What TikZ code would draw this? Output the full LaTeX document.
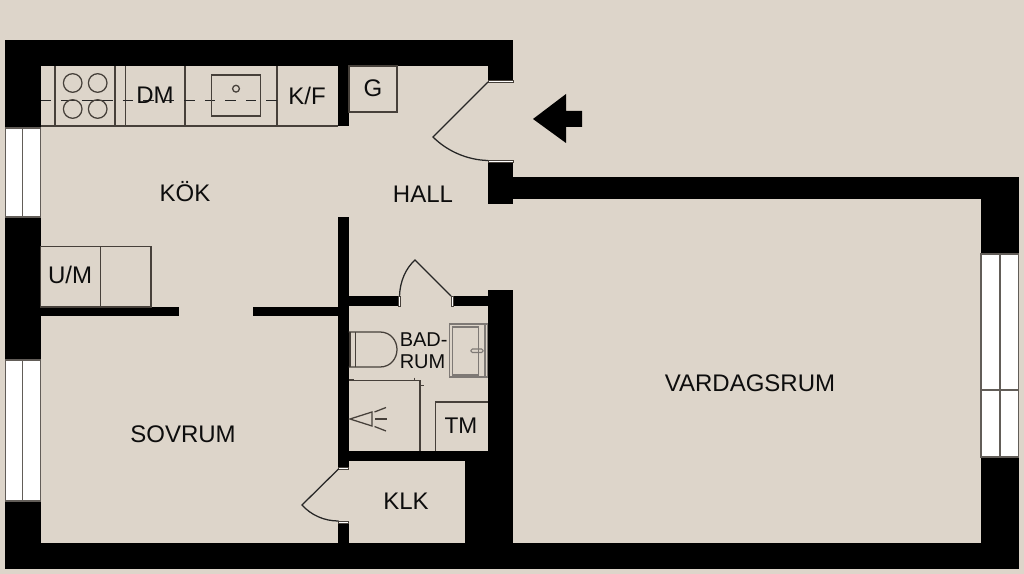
\documentclass[tikz,border=0pt]{standalone}
\usepackage{fontspec}
\setmainfont{Liberation Sans}
\definecolor{floorcol}{RGB}{221,213,202}
\definecolor{fixcol}{RGB}{70,64,58}
\tikzset{
  wall/.style={fill=black,draw=none},
  pane/.style={fill=white,draw=fixcol!85,line width=0.8pt},
  jamb/.style={fill=white,draw=fixcol,line width=0.5pt},
  fixture/.style={draw=fixcol,line width=0.95pt},
  basinline/.style={draw=fixcol!70,line width=0.85pt},
  doorleaf/.style={draw=black!85,line width=0.95pt},
  roomlabel/.style={inner sep=0pt,text=black!95,font=\fontsize{18}{18}\selectfont},
  smalllabel/.style={inner sep=0pt,text=black!95,font=\fontsize{15}{17.2}\selectfont}
}
\begin{document}
\begin{tikzpicture}[x=0.75pt,y=0.75pt,yscale=-1,xscale=1]
\useasboundingbox (0,0) rectangle (1024,574);
\fill[floorcol] (0,0) rectangle (1024,574);

%Outer walls
\path[wall] (5,40) rectangle (513,66);
\path[wall] (5,40) rectangle (40.5,569);
\path[wall] (5,543) rectangle (1019,569);
\path[wall] (981,177) rectangle (1019,569);
\path[wall] (488,177) rectangle (1019,199);
\path[wall] (488,66) rectangle (513,80.5);
\path[wall] (488,162.5) rectangle (513,204);

%Inner walls
\path[wall] (338,66) rectangle (348.5,126);
\path[wall] (338,217) rectangle (348.5,467);
\path[wall] (338,523) rectangle (348.5,543);
\path[wall] (40,307) rectangle (179,315.5);
\path[wall] (253,307) rectangle (338,315.5);
\path[wall] (348,296) rectangle (398,306);
\path[wall] (453,296) rectangle (488,306);
\path[wall] (488,290) rectangle (513,543);
\path[wall] (348,451) rectangle (488,461);
\path[wall] (465,461) rectangle (488,543);

%Windows
\draw[pane] (5.5,128) rectangle (40.5,217);
\draw[pane] (22.5,128) -- (22.5,217);
\draw[pane] (5.5,360) rectangle (40.5,501);
\draw[pane] (22.5,360) -- (22.5,501);
\draw[pane] (981,254) rectangle (1018.5,457);
\draw[pane] (1000,254) -- (1000,457);
\draw[pane] (981,390) -- (1018.5,390);

%Door jambs
\draw[jamb] (488,80.5) rectangle (513,82.5);
\draw[jamb] (488,160.5) rectangle (513,162.5);
\draw[jamb] (398,296) rectangle (400,306);
\draw[jamb] (451,296) rectangle (453,306);
\draw[jamb] (338.5,467) rectangle (348.5,469.5);
\draw[jamb] (338.5,521) rectangle (348.5,523);

%Door leaves
\draw[doorleaf] (488,82) -- (433,137) .. controls (447,151) and (467,160) .. (488,160.5);
\draw[doorleaf] (451,296) -- (415,260) .. controls (406,268) and (400,281) .. (399.5,296);
\draw[doorleaf] (338.5,469) -- (302,505) .. controls (311,515) and (324,521) .. (338.5,521);

%Entrance arrow
\fill[black] (533,119) -- (566,94) -- (566,111) -- (582,111) -- (582,127) -- (566,127) -- (566,143) -- cycle;

%Kitchen counter
\draw[fixture] (40.5,126) -- (338,126);
\foreach \cx in {55,115,125.5,185,277}
  \draw[fixture] (\cx,66) -- (\cx,126);
\draw[fixture,black!85,dash pattern=on 7.9pt off 7.5pt] (40.5,100.7) -- (277,100.7);
\draw[fixture,black!85] (61,100.7) -- (75,100.7);
\draw[fixture,black!85] (82,100.7) -- (112,100.7);
\foreach \hx in {72.7,97.7}
  \foreach \hy in {83,109}
    \draw[fixture] (\hx,\hy) circle (9.3);
\draw[fixture] (211.7,75) rectangle (260.7,116);
\draw[fixture] (236,88.7) circle (3.4);
\draw[fixture] (349,66) rectangle (397,112);

%Washer and cupboard
\draw[fixture] (40.5,246.7) rectangle (151,307);
\draw[fixture] (100.7,246.7) -- (100.7,307);

%Toilet
\draw[fixture] (350,332) -- (350,367);
\draw[fixture] (355.5,332) -- (355.5,367);
\draw[fixture] (348.5,332) -- (380,332) .. controls (391,332) and (397,341) .. (397,349.5) .. controls (397,358) and (391,367) .. (380,367) -- (348.5,367);

%Basin
\draw[basinline] (449.5,324) rectangle (487.5,377);
\draw[basinline] (452.5,327) rectangle (478.5,375);
\draw[basinline] (485,324) -- (485,377);
\draw[basinline,rounded corners=1pt] (471,349) rectangle (483,352.5);

%Shower
\draw[fixture] (348.5,380.5) -- (420,380.5) -- (420,451);
\draw[fixture] (348.5,379.5) -- (353.5,379.5);
\draw[fixture] (414.5,377.5) -- (414.5,380.5);
\draw[fixture] (420,385.5) -- (423.5,385.5);
\draw[fixture] (372,412) -- (350,419) -- (372,426) -- cycle;
\draw[fixture] (374.5,412) -- (386,407.5);
\draw[fixture] (375,419) -- (387,419);
\draw[fixture] (374.5,426.5) -- (386,431);
\draw[fixture] (435.5,451) -- (435.5,402) -- (487.5,402);

% Text Node
\node[roomlabel] (dmlabel) at (155,95) {DM};
\node[roomlabel] (kflabel) at (307,96) {K/F};
\node[roomlabel] (glabel) at (373,88) {G};
\node[roomlabel] (koklabel) at (185,192) {KÖK};
\node[roomlabel] (halllabel) at (423,194) {HALL};
\node[roomlabel] (umlabel) at (70,275) {U/M};
\node[roomlabel] (sovlabel) at (183,434) {SOVRUM};
\node[roomlabel] (vardlabel) at (750,383) {VARDAGSRUM};
\node[roomlabel,font=\fontsize{17}{17}\selectfont] (tmlabel) at (461,426) {TM};
\node[roomlabel] (klklabel) at (406,501) {KLK};
\node[smalllabel,align=left,anchor=north west] (badlabel) at (399.5,332) {BAD-\\RUM};
\end{tikzpicture}
\end{document}
